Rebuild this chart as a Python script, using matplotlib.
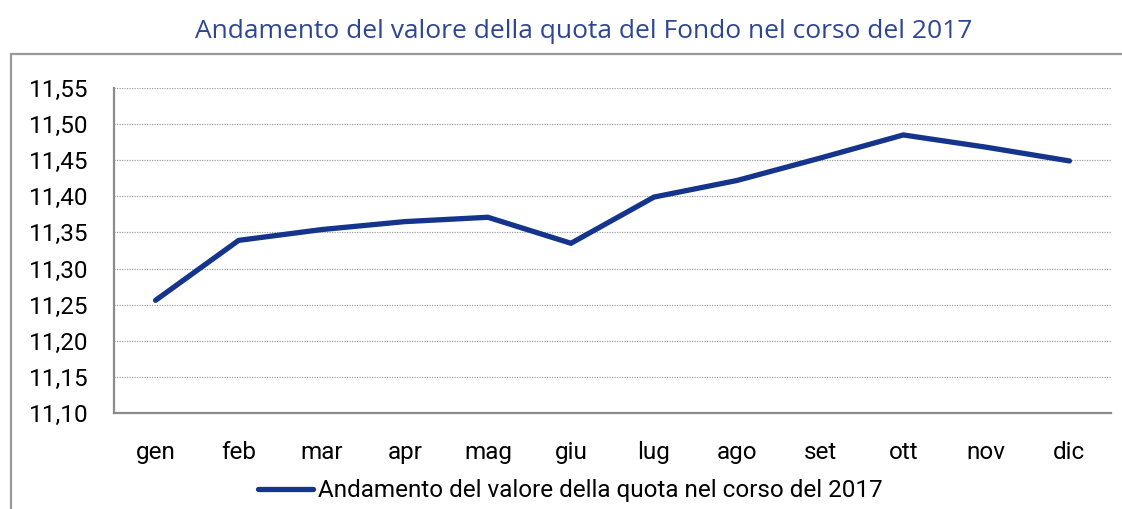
import matplotlib
matplotlib.use("Agg")
import matplotlib.pyplot as plt
from matplotlib.patches import Rectangle
from matplotlib.ticker import FuncFormatter

months = ["gen", "feb", "mar", "apr", "mag", "giu", "lug", "ago", "set", "ott", "nov", "dic"]
values = [11.256, 11.339, 11.354, 11.365, 11.371, 11.335, 11.399, 11.422, 11.453, 11.485, 11.468, 11.449]
yticks = [11.10, 11.15, 11.20, 11.25, 11.30, 11.35, 11.40, 11.45, 11.50, 11.55]
title = "Andamento del valore della quota del Fondo nel corso del 2017"
series_label = "Andamento del valore della quota nel corso del 2017"

W, H = 1122, 509
fig = plt.figure(figsize=(W / 100, H / 100), dpi=100)
fig.patch.set_facecolor("white")

# outer frame
fig.add_artist(Rectangle((11 / W, -0.05), 1.2, (H - 54) / H + 0.05, transform=fig.transFigure,
                         fill=False, edgecolor="#9a9a9a", linewidth=1.6))

fig.text(584 / W, 1 - 31 / H, title, ha="center", va="center", color="#2e4593",
         fontsize=19, family="Open Sans")

ax = fig.add_axes([114 / W, 1 - 413 / H, (1111 - 114) / W, (413 - 88) / H])
x = list(range(len(months)))
line, = ax.plot(x, values, color="#15358c", linewidth=3.8, solid_capstyle="round",
                solid_joinstyle="miter", label=series_label)
ax.set_xlim(-0.5, len(months) - 0.5)
ax.set_ylim(yticks[0], yticks[-1])
ax.set_yticks(yticks)
ax.yaxis.set_major_formatter(FuncFormatter(lambda v, p: f"{v:.2f}".replace(".", ",")))
ax.set_xticks(x)
ax.set_xticklabels(months)
ax.grid(axis="y", linestyle=(0, (1, 1)), color="#a0a0a0", linewidth=0.9)
ax.set_axisbelow(True)
for s in ["top", "right"]:
    ax.spines[s].set_visible(False)
for s in ["left", "bottom"]:
    ax.spines[s].set_color("#8c8c8c")
    ax.spines[s].set_linewidth(1.6)
ax.tick_params(axis="both", length=0, labelcolor="black")
ax.tick_params(axis="y", pad=18.5)
ax.tick_params(axis="x", pad=20)
for lab in ax.get_xticklabels() + ax.get_yticklabels():
    lab.set_family("Roboto")
    lab.set_fontsize(17.5)

leg = fig.legend(handles=[line], loc="center", bbox_to_anchor=(570 / W, 1 - 491 / H),
                 frameon=False, handlelength=2.26, handletextpad=0.2,
                 prop={"family": "Roboto", "size": 17.5})

fig.savefig("out.png", dpi=100, facecolor="white")
